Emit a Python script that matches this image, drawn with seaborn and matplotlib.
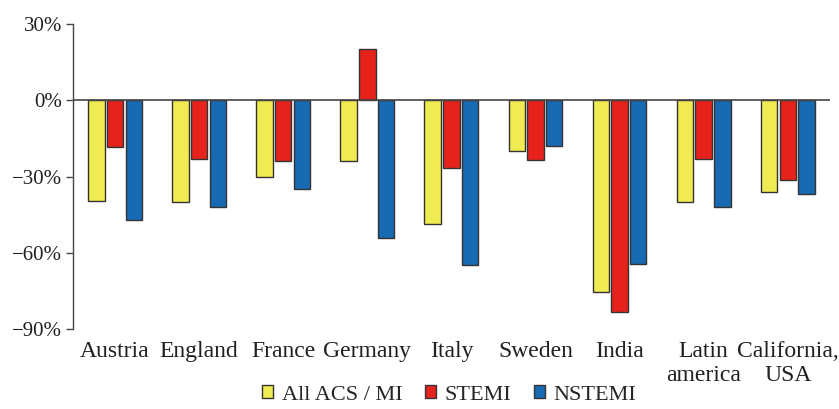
import pandas as pd
import numpy as np
import seaborn as sns
import matplotlib
matplotlib.use('Agg')
import matplotlib.pyplot as plt
from matplotlib.ticker import FuncFormatter

regions = ["Austria", "England", "France", "Germany", "Italy", "Sweden", "India",
           "Latin\namerica", "California,\nUSA"]
series = ["All ACS / MI", "STEMI", "NSTEMI"]
all_acs = [-39.5, -40.0, -30.0, -24.0, -48.5, -20.0, -75.5, -40.0, -36.0]
stemi = [-18.5, -23.0, -24.0, 20.0, -26.5, -23.5, -83.5, -23.0, -31.5]
nstemi = [-47.0, -42.0, -35.0, -54.0, -65.0, -18.0, -64.5, -42.0, -37.0]
colors = ["#F0EB52", "#E5231C", "#1769B1"]

rows = []
for name, vals in zip(series, [all_acs, stemi, nstemi]):
	for reg, v in zip(regions, vals):
		rows.append({"region": reg, "type": name, "change": v})
df = pd.DataFrame(rows)

sns.set_style("white")
plt.rcParams['font.family'] = ['Liberation Serif', 'DejaVu Serif']
plt.rcParams['axes.unicode_minus'] = True

fig = plt.figure(figsize = (8.39, 4.09), dpi = 100)
ax = fig.add_axes([0.087, 0.1956, 0.902, 0.7457])

sns.barplot(data = df, x = "region", y = "change", hue = "type", order = regions,
	hue_order = series, palette = colors, saturation = 1, width = 0.667, gap = 0.12,
	edgecolor = "#333333", linewidth = 1.0, errorbar = None, ax = ax, zorder = 3)

ax.axhline(0, color = "#4a4444", lw = 1.2, zorder = 4)
ax.set_xlim(-0.5, 8.5)
ax.set_ylim(-90, 30)
ax.set_yticks([30, 0, -30, -60, -90])
ax.yaxis.set_major_formatter(FuncFormatter(lambda v, p: ("%d%%" % v).replace("-", "\u2212")))
ax.set_xlabel("")
ax.set_ylabel("")
sns.despine(ax = ax, top = True, right = True, bottom = True)
ax.spines["left"].set_color("#4a4444")
ax.spines["left"].set_linewidth(1.0)
ax.tick_params(axis = "y", which = "major", left = True, length = 5, width = 1,
	color = "#4a4444", labelsize = 15, labelcolor = "#231f20", pad = 3)
ax.tick_params(axis = "x", bottom = False, labelsize = 17, labelcolor = "#231f20", pad = 5)

handles, labs = ax.get_legend_handles_labels()
ax.legend(handles, labs, loc = "upper center", bbox_to_anchor = (0.497, -0.185), ncol = 3,
	frameon = False, fontsize = 16, handlelength = 0.5, handleheight = 0.5,
	handletextpad = 0.4, columnspacing = 1.0, borderaxespad = 0, borderpad = 0)

fig.savefig("out.png", dpi = 100)
